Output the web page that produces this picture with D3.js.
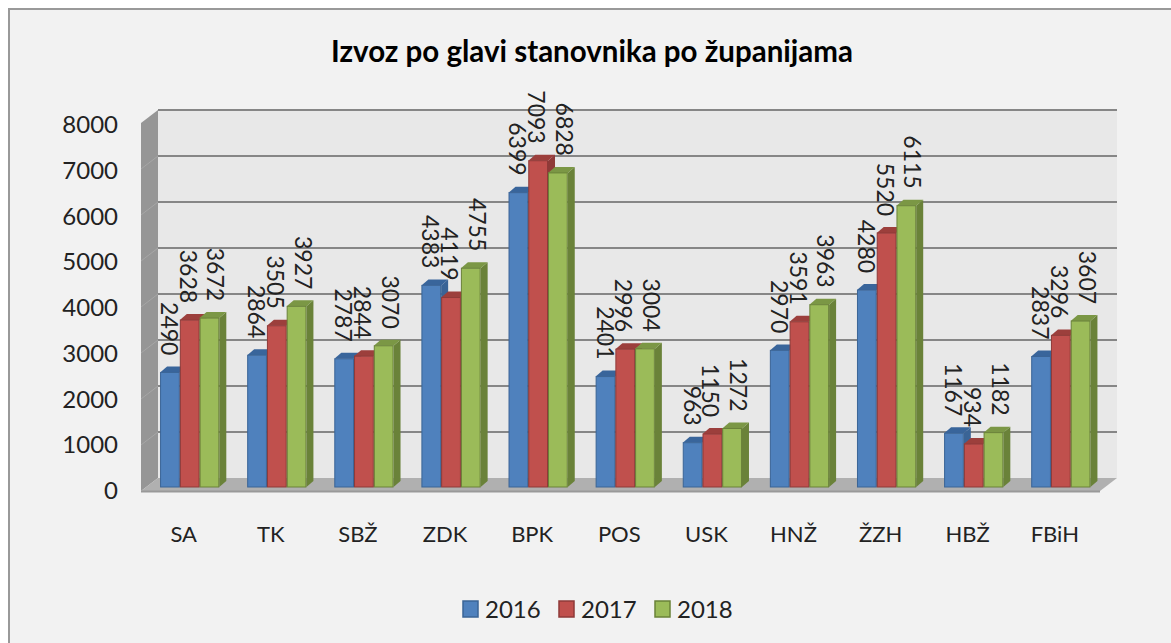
<!DOCTYPE html>
<html>
<head>
<meta charset="utf-8">
<script src="https://cdn.jsdelivr.net/npm/d3@7"></script>
<style>
    html, body { margin: 0; padding: 0; background: #fff; }
    svg { display: block; }
    text { font-family: Lato, "Open Sans", sans-serif; fill: #222; }
</style>
</head>
<body>
<div id="chart"></div>
<script>
const chartTitle = "Izvoz po glavi stanovnika po županijama";
const categories = ["SA", "TK", "SBŽ", "ZDK", "BPK", "POS", "USK", "HNŽ", "ŽZH", "HBŽ", "FBiH"];
const seriesNames = ["2016", "2017", "2018"];
const values2016 = [2490, 2864, 2787, 4383, 6399, 2401, 963, 2970, 4280, 1167, 2837];
const values2017 = [3628, 3505, 2844, 4119, 7093, 2996, 1150, 3591, 5520, 934, 3296];
const values2018 = [3672, 3927, 3070, 4755, 6828, 3004, 1272, 3963, 6115, 1182, 3607];
const yTicks = [0, 1000, 2000, 3000, 4000, 5000, 6000, 7000, 8000];

const seriesValues = [values2016, values2017, values2018];
const colors = ["#4f81bd", "#c0504d", "#9bbb59"];
const sideColors = ["#3a6496", "#8f3a38", "#6a8239"];
const topColors = ["#39659b", "#9c3f3c", "#7b9745"];

const width = 1171, height = 643;
const depthX = 7, depthY = 6;
const wallX = 17, wallY = 13;

let svg = d3.select("#chart").append("svg")
    .attr("width", width)
    .attr("height", height);

// chart frame, runs off the right and bottom of the picture
svg.append("rect")
    .attr("x", 9).attr("y", 9)
    .attr("width", width + 20).attr("height", height + 20)
    .attr("fill", "#f2f2f2")
    .attr("stroke", "#999").attr("stroke-width", 2);

svg.append("text")
    .attr("x", 592).attr("y", 62)
    .attr("text-anchor", "middle")
    .attr("font-size", 29.5).attr("font-weight", 700)
    .attr("fill", "#000").style("fill", "#000")
    .text(chartTitle);

let x0 = d3.scaleBand()
    .domain(categories)
    .range([147, 1103.5])
    .paddingInner(0.32)
    .paddingOuter(0.15);

let x1 = d3.scaleBand()
    .domain(seriesNames)
    .range([0, x0.bandwidth()]);

// front of the bars, the axis sits a little lower and the back wall higher
let y = d3.scaleLinear().domain([0, 8000]).range([487, 119]);
let yAxisScale = d3.scaleLinear().domain([0, 8000]).range([491, 125]);

const left = 141, right = 1100, floorY = 491;
const backY = (v) => y(v) - 9;

// back wall
svg.append("rect")
    .attr("x", left + wallX).attr("y", backY(8000))
    .attr("width", right - left)
    .attr("height", backY(0) - backY(8000))
    .attr("fill", "#e8e8e8");

// left wall
svg.append("polygon")
    .attr("points", [[left, floorY], [left + wallX, floorY - wallY], [left + wallX, backY(8000)], [left, backY(8000) + wallY]].join(" "))
    .attr("fill", "#969696");

// floor
svg.append("polygon")
    .attr("points", [[left, floorY], [left + wallX, floorY - wallY], [right + wallX, floorY - wallY], [right, floorY]].join(" "))
    .attr("fill", "#b0b0b0");
svg.append("line")
    .attr("x1", left).attr("x2", right)
    .attr("y1", floorY + 0.5).attr("y2", floorY + 0.5)
    .attr("stroke", "#999").attr("stroke-width", 2);

// gridlines
svg.selectAll(".grid")
    .data(yTicks.slice(1))
    .enter().append("line")
    .attr("class", "grid")
    .attr("x1", left + wallX).attr("x2", right + wallX)
    .attr("y1", (d) => backY(d)).attr("y2", (d) => backY(d))
    .attr("stroke", "#868686").attr("stroke-width", 2);

svg.selectAll(".wallGrid")
    .data(yTicks.slice(1, -1))
    .enter().append("line")
    .attr("class", "wallGrid")
    .attr("x1", left).attr("x2", left + wallX)
    .attr("y1", (d) => backY(d) + wallY).attr("y2", (d) => backY(d))
    .attr("stroke", "#a6a6a6").attr("stroke-width", 1);

let yAxis = svg.append("g")
    .attr("transform", "translate(" + (left - 20) + ",0)")
    .call(d3.axisLeft(yAxisScale).tickValues(yTicks).tickSize(0).tickPadding(3).tickFormat(d3.format("d")));
yAxis.select(".domain").remove();
yAxis.selectAll("text").attr("font-size", 24);

let xAxis = svg.append("g")
    .attr("transform", "translate(-6,526)")
    .call(d3.axisBottom(x0).tickSize(0).tickPadding(0));
xAxis.select(".domain").remove();
xAxis.selectAll("text").attr("font-size", 22);

// bars, series by series so each one covers the side of the one before it
const labelOffsets = [9, 8, 16];

let groups = svg.selectAll(".group")
    .data(categories)
    .enter().append("g")
    .attr("class", "group")
    .attr("transform", (d) => "translate(" + x0(d) + ",0)");

seriesNames.forEach(function (name, s) {
    let bars = groups.append("g").datum((d, i) => seriesValues[s][i]);
    let bx = x1(name), bw = x1.bandwidth();

    bars.append("polygon")
        .attr("points", (v) => [[bx + bw, y(v)], [bx + bw + depthX, y(v) - depthY], [bx + bw + depthX, y(0) - depthY], [bx + bw, y(0)]].join(" "))
        .attr("fill", sideColors[s]);

    bars.append("polygon")
        .attr("points", (v) => [[bx, y(v)], [bx + depthX, y(v) - depthY], [bx + bw + depthX, y(v) - depthY], [bx + bw, y(v)]].join(" "))
        .attr("fill", topColors[s]);

    bars.append("rect")
        .attr("x", bx + 0.5)
        .attr("y", (v) => y(v))
        .attr("width", bw - 1)
        .attr("height", (v) => y(0) - y(v))
        .attr("fill", colors[s])
        .attr("stroke", sideColors[s])
        .attr("stroke-width", 1);
});

// value labels go on top of all the bars
seriesNames.forEach(function (name, s) {
    groups.append("text")
        .datum((d, i) => seriesValues[s][i])
        .attr("transform", (v) => "translate(" + (x1(name) + labelOffsets[s]) + "," + (y(v) - 17) + ") rotate(90)")
        .attr("text-anchor", "end")
        .attr("dy", "0.35em")
        .attr("font-size", 23)
        .text((v) => v);
});

// legend
const legendX = [463, 559, 655];

seriesNames.forEach(function (name, s) {
    svg.append("rect")
        .attr("x", legendX[s]).attr("y", 601)
        .attr("width", 15).attr("height", 16)
        .attr("fill", colors[s])
        .attr("stroke", sideColors[s]).attr("stroke-width", 1.5);
    svg.append("text")
        .attr("x", legendX[s] + 22).attr("y", 610)
        .attr("dy", "0.35em")
        .attr("font-size", 24)
        .text(name);
});
</script>
</body>
</html>
